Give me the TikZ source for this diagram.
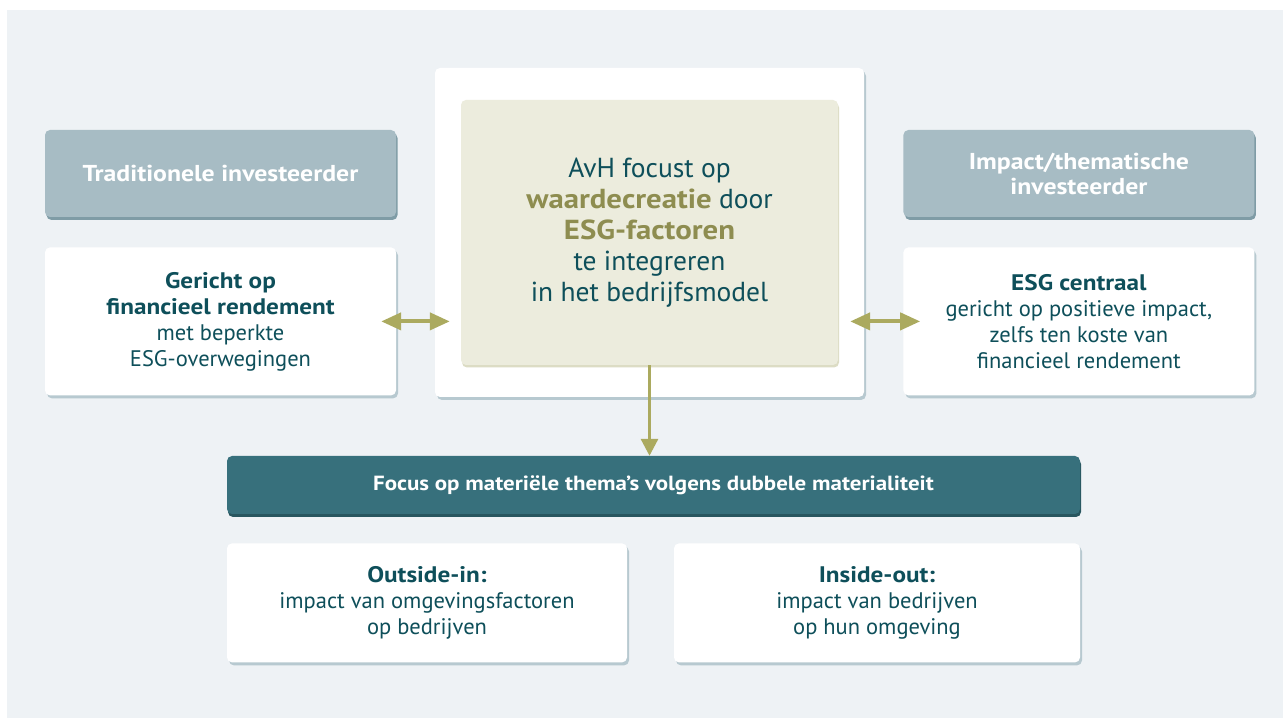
\documentclass[tikz,border=0pt]{standalone}
\usepackage{fontspec}
\setmainfont{PT Sans}[BoldFeatures={FakeStretch=1.12}]
\usepackage{xcolor}
\usetikzlibrary{shapes,arrows.meta,positioning,shadows}

\definecolor{panelbg}{HTML}{EEF2F5}
\definecolor{headbg}{HTML}{A7BCC4}
\definecolor{headshade}{HTML}{7F9CA6}
\definecolor{barbg}{HTML}{37707C}
\definecolor{barshade}{HTML}{28565F}
\definecolor{darkteal}{HTML}{0E4F5A}
\definecolor{olive}{HTML}{8E8D50}
\definecolor{arrowc}{HTML}{ABAA5F}
\definecolor{beige}{HTML}{ECECDD}
\definecolor{beigeshade}{HTML}{DCDCC4}
\definecolor{boxshade}{HTML}{B7C9D0}

\begin{document}
\begin{tikzpicture}[x=1pt, y=1pt,
    box/.style={fill=white, rounded corners=5pt, align=center, text=darkteal, inner sep=0pt,
        drop shadow={fill=boxshade, opacity=1, shadow xshift=2pt, shadow yshift=-3pt},
        font=\fontsize{22.5}{26}\selectfont},
    header/.style={fill=headbg, rounded corners=5pt, align=center, text=white, inner sep=0pt,
        drop shadow={fill=headshade, opacity=1, shadow xshift=1.5pt, shadow yshift=-3pt},
        font=\bfseries\fontsize{23}{25}\selectfont, minimum width=351pt, minimum height=87pt},
    avhbox/.style={fill=beige, rounded corners=5pt, align=center, text=darkteal, inner sep=0pt,
        drop shadow={fill=beigeshade, opacity=1, shadow xshift=1pt, shadow yshift=-2.5pt},
        font=\fontsize{27.5}{31}\selectfont},
    focusbar/.style={fill=barbg, rounded corners=5pt, align=center, text=white, inner sep=0pt,
        drop shadow={fill=barshade, opacity=1, shadow xshift=1pt, shadow yshift=-3pt},
        font=\bfseries\fontsize{20.5}{22}\selectfont},
    dblarrow/.style={draw=arrowc, line width=4pt,
        {Triangle[length=20pt,width=17pt]}-{Triangle[length=20pt,width=17pt]}},
    downarrow/.style={draw=arrowc, line width=3pt, -{Triangle[length=17pt,width=17pt]}}]

    \useasboundingbox (0,0) rectangle (1283,718);
    \fill[panelbg] (7,0) rectangle (1283,708);

    % AvH centre
    \node [box, minimum width=429pt, minimum height=329pt] (outer) at (649.5,485.5) {};
    \node [avhbox, minimum width=377pt, minimum height=265pt] (avh) at (outer.center)
        {AvH focust op\\ \textcolor{olive}{\textbf{waardecreatie}} door\\ \textcolor{olive}{\textbf{ESG-factoren}}\\ te integreren\\ in het bedrijfsmodel};

    % Traditionele investeerder
    \node [header] (trad) at (220.5,544.5) {Traditionele investeerder};
    \node [box, below=30pt of trad, minimum width=351pt, minimum height=148pt] (tradbox)
        {\textbf{Gericht op}\\ \textbf{financieel rendement}\\ met beperkte\\ ESG-overwegingen};

    % Impact/thematische investeerder
    \node [header, right=507pt of trad] (impact) {Impact/thematische\\ investeerder};
    \node [box, below=30pt of impact, minimum width=351pt, minimum height=148pt] (impactbox)
        {\textbf{ESG centraal}\\ gericht op positieve impact,\\ zelfs ten koste van\\ financieel rendement};

    % Dubbele materialiteit
    \node [focusbar, minimum width=853pt, minimum height=58pt] (focus) at (653.5,233)
        {Focus op materiële thema’s volgens dubbele materialiteit};
    \node [box, below=29pt of focus.south west, anchor=north west, minimum width=400pt, minimum height=119pt] (outin)
        {\textbf{Outside-in:}\\ impact van omgevingsfactoren\\ op bedrijven};
    \node [box, below=29pt of focus.south east, anchor=north east, minimum width=406pt, minimum height=119pt] (inout)
        {\textbf{Inside-out:}\\ impact van bedrijven\\ op hun omgeving};

    % Arrows
    \draw [dblarrow] ([xshift=-15pt]tradbox.east) -- ([xshift=15pt]tradbox.east -| outer.west);
    \draw [dblarrow] ([xshift=-14pt]impactbox.west -| outer.east) -- ([xshift=17pt]impactbox.west);
    \draw [downarrow] (avh.south) -- (avh.south |- focus.north);
\end{tikzpicture}
\end{document}
